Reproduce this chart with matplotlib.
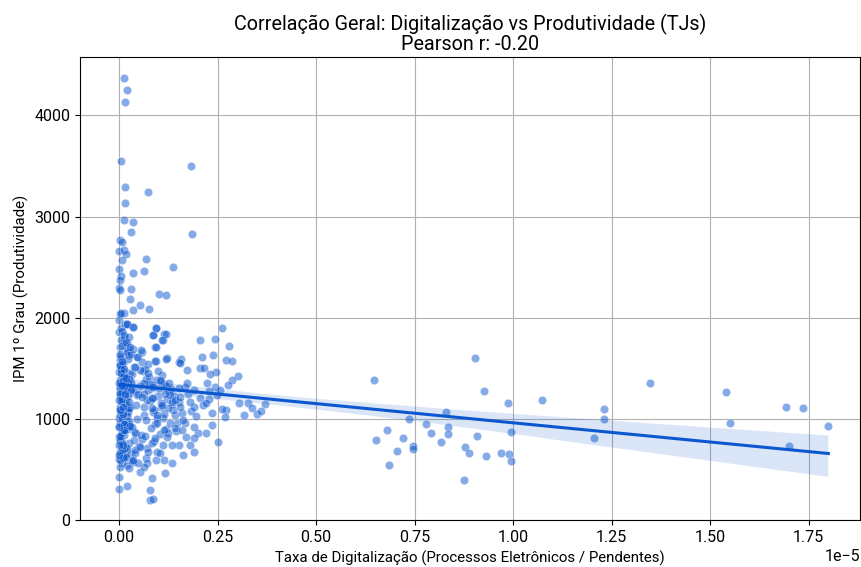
import numpy as np
import matplotlib
matplotlib.use("Agg")
import matplotlib.pyplot as plt
import seaborn as sns

plt.rcParams['font.family'] = ['Roboto', 'DejaVu Sans']

# taxa de digitalizacao (em 1e-5) e IPM 1o grau
# nucleo denso perto de zero
dense_x = [0.000, 0.003, 0.001, 0.006, 0.002, 0.009, 0.004, 0.000, 0.011, 0.005,
           0.001, 0.007, 0.000, 0.013, 0.002, 0.008, 0.004, 0.015, 0.001, 0.006,
           0.010, 0.003, 0.017, 0.000, 0.012, 0.005, 0.019, 0.002, 0.009, 0.014,
           0.004, 0.021, 0.001, 0.008, 0.016, 0.003, 0.011, 0.023, 0.006, 0.000,
           0.013, 0.002, 0.018, 0.007, 0.025, 0.004, 0.010, 0.001, 0.015, 0.020,
           0.005, 0.012, 0.027, 0.003, 0.009, 0.017, 0.000, 0.022, 0.006, 0.014,
           0.008, 0.024, 0.002, 0.011, 0.030, 0.005, 0.016, 0.001, 0.019, 0.007,
           0.026, 0.013, 0.004, 0.021, 0.010, 0.033, 0.003, 0.015, 0.028, 0.006,
           0.018, 0.000, 0.012, 0.035, 0.008, 0.022, 0.002, 0.017, 0.031, 0.009,
           0.004, 0.025, 0.014, 0.038, 0.001, 0.020, 0.011, 0.029, 0.005, 0.016,
           0.034, 0.007, 0.023, 0.013, 0.041, 0.002, 0.019, 0.010, 0.036, 0.006,
           0.027, 0.015, 0.044, 0.003, 0.021, 0.012, 0.039, 0.008, 0.030, 0.018,
           0.047, 0.005, 0.024, 0.014, 0.042, 0.009, 0.032, 0.001, 0.050, 0.017,
           0.037, 0.011, 0.053, 0.004, 0.026, 0.045, 0.013, 0.057, 0.007, 0.033,
           0.060, 0.022, 0.048, 0.016, 0.064, 0.028, 0.055, 0.010, 0.040, 0.068,
           0.002, 0.006, 0.010, 0.001, 0.014, 0.004, 0.008, 0.019, 0.003, 0.012,
           0.000, 0.007, 0.016, 0.005, 0.022, 0.002, 0.011, 0.026, 0.009, 0.001,
           0.013, 0.004, 0.018, 0.000, 0.007, 0.029, 0.003, 0.015, 0.006, 0.010]
dense_y = [1855, 1712, 1583, 1436, 1292, 1147, 1018, 927, 838, 744,
           648, 563, 1978, 1764, 1621, 1493, 1362, 1244, 1115, 992,
           884, 781, 692, 604, 2042, 1897, 1655, 1527, 1404, 1318,
           1203, 1082, 963, 851, 726, 522, 1813, 1688, 1561, 1462,
           1341, 1259, 1173, 1054, 941, 812, 683, 592, 1938, 1745,
           1604, 1473, 1384, 1302, 1188, 1097, 1003, 902, 768, 655,
           1872, 1634, 1532, 1418, 1352, 1221, 1133, 1042, 968, 862,
           757, 618, 1782, 1663, 1548, 1441, 1313, 1207, 1119, 1011,
           934, 823, 701, 574, 1724, 1592, 1481, 1374, 1268, 1176,
           1064, 981, 893, 792, 668, 543, 1827, 1643, 1503, 1409,
           1287, 1162, 1071, 953, 874, 787, 712, 609, 1687, 1542,
           1456, 1337, 1233, 1092, 1029, 946, 858, 754, 647, 1758,
           1611, 1497, 1392, 1276, 1141, 1048, 918, 831, 727, 620,
           1516, 1426, 1328, 1215, 1104, 998, 889, 796, 694, 586,
           1468, 1357, 1246, 1153, 1037, 925, 843, 738, 663, 1392,
           1384, 1297, 1412, 1236, 1348, 1172, 1263, 1318, 1089, 1426,
           1351, 1198, 1274, 1457, 1226, 1529, 1311, 1162, 1377, 1254,
           1496, 1328, 1405, 1183, 1568, 1287, 1643, 1246, 1338, 1121]

# faixa intermediaria (0.05 a 0.37)
mid_x = [0.072, 0.079, 0.085, 0.091, 0.098, 0.105, 0.112, 0.118, 0.126, 0.133,
         0.141, 0.148, 0.076, 0.083, 0.094, 0.101, 0.108, 0.115, 0.122, 0.137,
         0.066, 0.071, 0.088, 0.096, 0.103, 0.110, 0.128, 0.145, 0.160, 0.168,
         0.058, 0.063, 0.069, 0.074, 0.081, 0.087, 0.093, 0.099, 0.107, 0.114,
         0.062, 0.067, 0.078, 0.089, 0.097, 0.106, 0.119, 0.131, 0.139, 0.152,
         0.174, 0.182, 0.194, 0.205, 0.214, 0.228, 0.236, 0.248, 0.201, 0.166,
         0.093, 0.113, 0.085, 0.111, 0.092, 0.206, 0.243, 0.261, 0.279, 0.211,
         0.238, 0.270, 0.287, 0.121, 0.156, 0.153, 0.093, 0.204, 0.216, 0.172,
         0.246, 0.231, 0.301, 0.287, 0.223, 0.172, 0.277, 0.244, 0.256, 0.227,
         0.189, 0.152, 0.127, 0.104, 0.066, 0.303, 0.328, 0.337, 0.371, 0.316,
         0.349, 0.360, 0.272, 0.261, 0.269, 0.220, 0.190, 0.181, 0.155, 0.134,
         0.123, 0.108, 0.235, 0.220, 0.251, 0.190, 0.190, 0.180, 0.189, 0.162,
         0.170, 0.151, 0.134, 0.117, 0.115, 0.104, 0.125, 0.113, 0.142, 0.163,
         0.159, 0.096, 0.083, 0.074, 0.070, 0.083, 0.077, 0.077, 0.087, 0.053,
         0.062, 0.049, 0.036, 0.024, 0.020, 0.000, 0.000, 0.000, 0.000, 0.000,
         0.039, 0.053, 0.091, 0.121, 0.134, 0.096, 0.083, 0.070, 0.058, 0.083,
         0.129, 0.142, 0.155, 0.117, 0.087, 0.062, 0.074, 0.053, 0.041, 0.045,
         0.058, 0.028, 0.024, 0.036, 0.020, 0.003, 0.034, 0.052, 0.075, 0.020,
         0.036, 0.093, 0.085, 0.118, 0.109, 0.094, 0.056, 0.120, 0.092, 0.155]
mid_y = [1286, 1178, 1063, 952, 1227, 1118, 1004, 897, 1271, 1146,
         1039, 962, 1418, 1324, 1386, 1302, 1437, 1343, 1191, 1088,
         833, 716, 782, 668, 852, 741, 963, 877, 1062, 963,
         1566, 1118, 987, 1542, 906, 1208, 593, 1473, 1157, 1052,
         1243, 611, 1347, 1089, 1009, 1374, 1326, 1297, 1225, 1169,
         1248, 1076, 1031, 1210, 1136, 1192, 1056, 1232, 858, 1314,
         1899, 1843, 1826, 1777, 1705, 1777, 1787, 1899, 1718, 1612,
         1632, 1580, 1570, 1599, 1596, 1560, 1570, 1507, 1503, 1481,
         1464, 1441, 1421, 1382, 1355, 1355, 1333, 1316, 1283, 1276,
         1283, 1300, 1349, 1382, 1497, 1152, 1158, 1102, 1145, 1037,
         1043, 1079, 1086, 1096, 1014, 1158, 1119, 1168, 1119, 1168,
         1102, 1135, 938, 856, 773, 921, 806, 740, 671, 642,
         822, 740, 566, 467, 592, 658, 856, 888, 905, 987,
         888, 954, 757, 674, 560, 412, 296, 197, 207, 477,
         526, 560, 592, 510, 339, 303, 421, 642, 740, 921,
         691, 724, 806, 822, 740, 1037, 1102, 1185, 1217, 1201,
         1234, 1185, 1217, 1250, 1316, 1349, 1448, 1481, 1513, 1612,
         1661, 1711, 1809, 1908, 1941, 2040, 2073, 2125, 2086, 1935,
         1908, 1895, 1829, 1843, 1784, 1705, 1678, 1596, 1567, 1547]

# valores altos isolados perto de zero
top_x = [0.011, 0.019, 0.014, 0.005, 0.182, 0.016, 0.072, 0.016, 0.011, 0.036,
         0.029, 0.184, 0.003, 0.006, 0.000, 0.012, 0.018, 0.008, 0.067, 0.000,
         0.034, 0.062, 0.136, 0.004, 0.001, 0.031, 0.000, 0.001, 0.102, 0.120,
         0.028, 0.004]
top_y = [4366, 4255, 4136, 3544, 3495, 3294, 3245, 3136, 2968, 2949,
         2850, 2830, 2771, 2747, 2662, 2665, 2629, 2570, 2580, 2485,
         2445, 2461, 2501, 2415, 2369, 2283, 2290, 2270, 2234, 2228,
         2188, 2046]

# tribunais com digitalizacao alta
far_x = [0.646, 0.652, 0.680, 0.685, 0.706, 0.721, 0.736, 0.745, 0.745, 0.778,
         0.792, 0.817, 0.830, 0.835, 0.835, 0.876, 0.879, 0.889, 0.904, 0.909,
         0.927, 0.930, 0.970, 0.986, 0.989, 0.994, 0.994, 1.073, 1.206, 1.231,
         1.231, 1.348, 1.540, 1.551, 1.693, 1.699, 1.736, 1.800]
far_y = [1382, 787, 885, 540, 678, 806, 994, 730, 700, 945,
         856, 767, 1063, 915, 852, 398, 720, 665, 1599, 826,
         1273, 628, 665, 1152, 655, 872, 586, 1185, 806, 1093,
         994, 1349, 1260, 954, 1112, 727, 1102, 925]

taxa = np.array(dense_x + mid_x + top_x + far_x) * 1e-5
ipm = np.array(dense_y + mid_y + top_y + far_y, dtype=float)

blue = '#0B57D0'

fig = plt.figure(figsize=(8.62, 5.67), dpi=100)
ax = fig.add_axes([0.093, 0.083, 0.905, 0.816])

sns.regplot(x=taxa, y=ipm, ax=ax, color=blue,
            scatter_kws={'alpha': 0.5, 's': 36, 'edgecolors': 'white', 'linewidths': 0.4},
            line_kws={'color': blue, 'linewidth': 2.2})

ax.set_xlim(-0.099e-5, 1.881e-5)
ax.set_ylim(bottom=0)
ax.grid(True, color='#b0b0b0', linewidth=0.8)
ax.set_axisbelow(True)

ax.set_title('Correlação Geral: Digitalização vs Produtividade (TJs)\nPearson r: -0.20',
             fontsize=14.2, linespacing=1.0, pad=5)
ax.set_xlabel('Taxa de Digitalização (Processos Eletrônicos / Pendentes)', fontsize=10.8)
ax.set_ylabel('IPM 1º Grau (Produtividade)', fontsize=10.8)
ax.tick_params(labelsize=11.5)
ax.xaxis.get_offset_text().set_fontsize(11.5)

fig.savefig('out.png', dpi=100)
